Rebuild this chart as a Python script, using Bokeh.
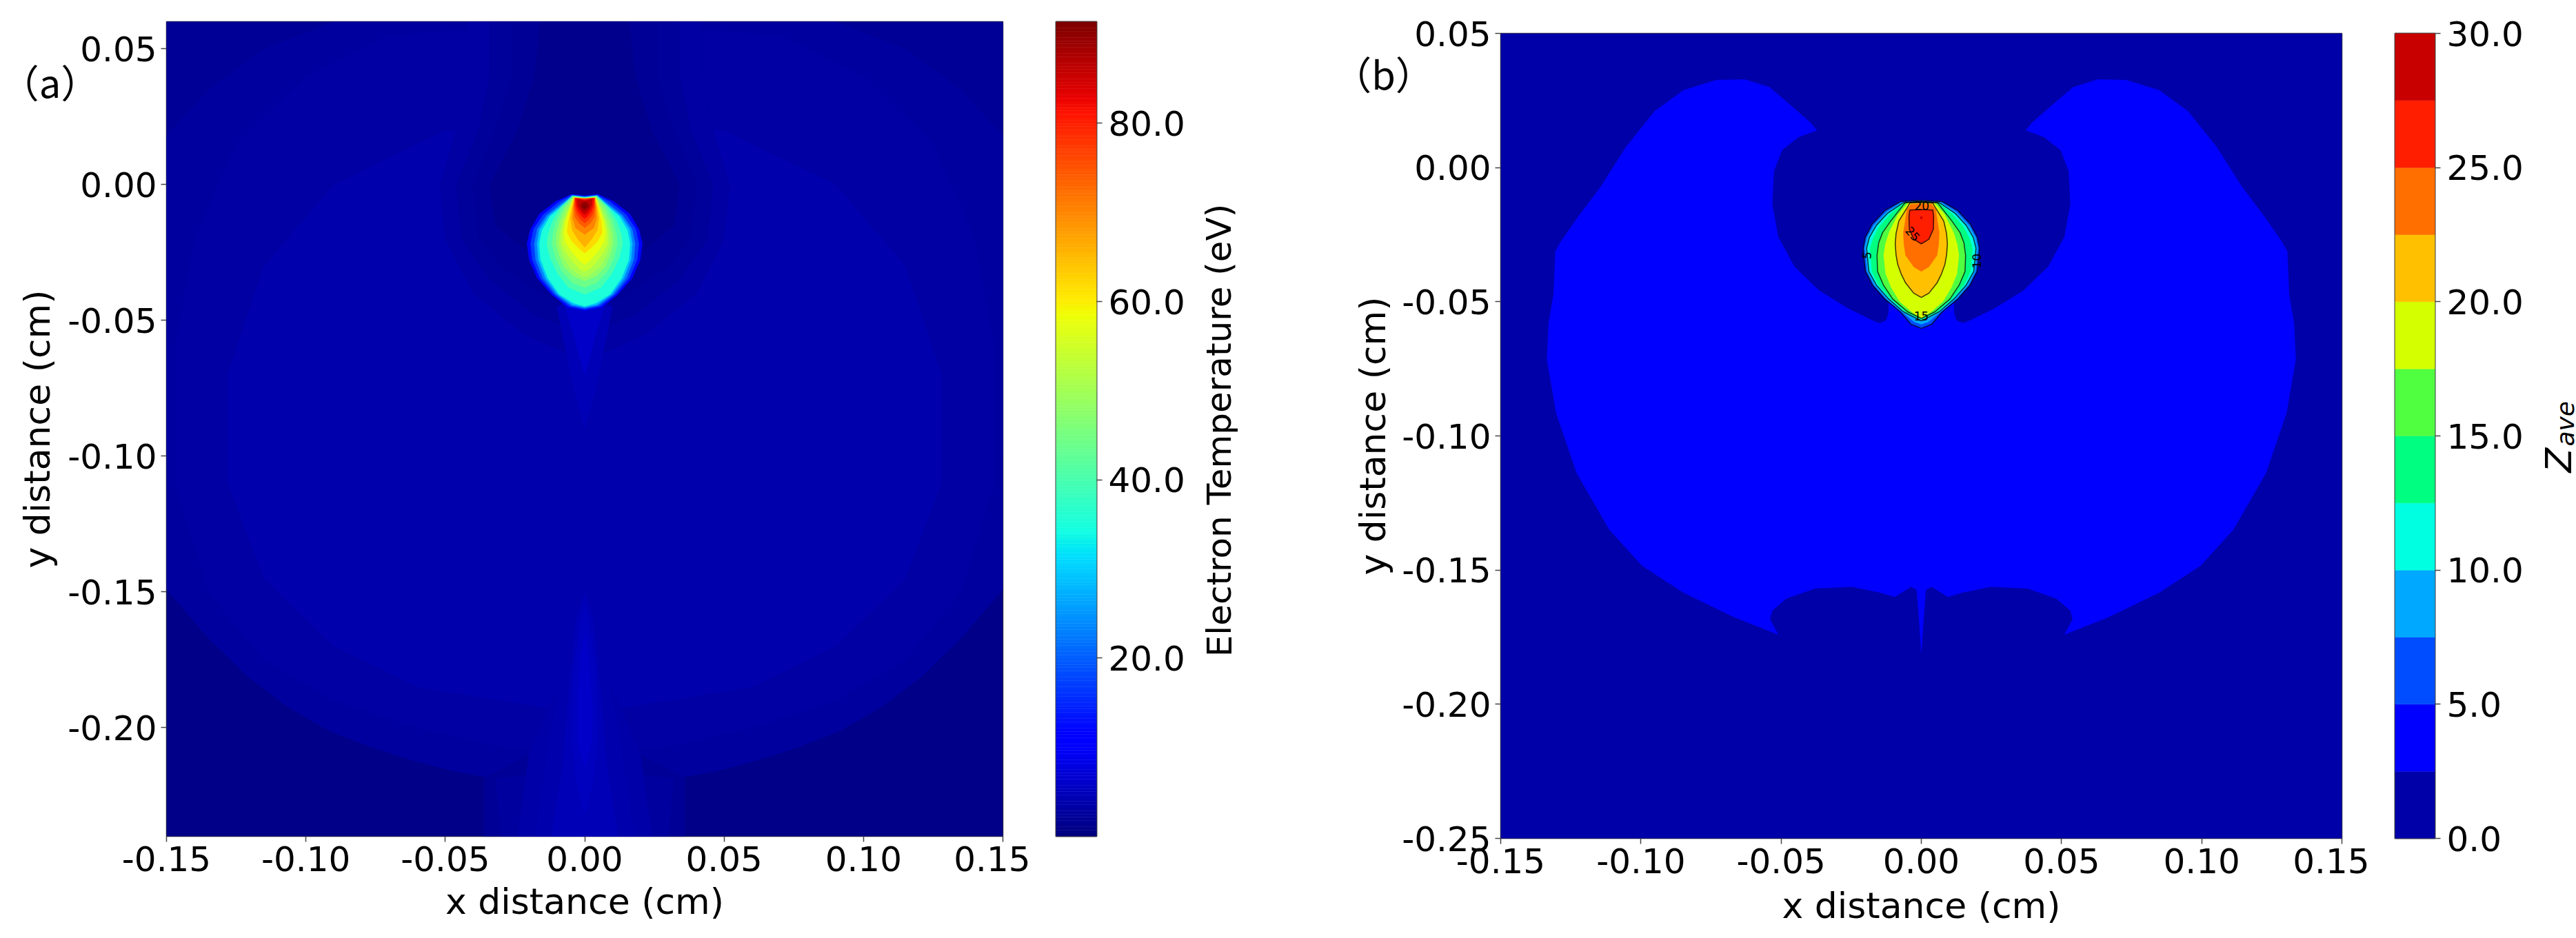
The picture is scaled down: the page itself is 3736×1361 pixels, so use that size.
from math import pi
import numpy as np
from bokeh.core.properties import value
from bokeh.embed import file_html
from bokeh.models import ColumnDataSource, FixedTicker, LinearColorMapper, NumeralTickFormatter, Range1d
from bokeh.plotting import figure
from bokeh.resources import INLINE

# ---- panel (a): electron temperature, half outlines (x >= 0) of each band, in cm
te_high = 91.4
te_ticks = [20, 40, 60, 80]

upper_x = [0, 0.15, 0.15, 0]
upper_y = [0.06, 0.06, -0.10, -0.10]
dome_x = [0, 0.09, 0.115, 0.135, 0.15, 0.15, 0.135, 0.121, 0.107, 0.092, 0.077, 0.062, 0.047, 0.033, 0.03, 0]
dome_y = [0.06, 0.06, 0.05, 0.035, 0.018, -0.149, -0.167, -0.181, -0.192, -0.201, -0.207, -0.212, -0.216, -0.2186, -0.24, -0.24]
inner_x = [0, 0.07, 0.10, 0.125, 0.14, 0.147, 0.147, 0.135, 0.115, 0.09, 0.06, 0.03, 0]
inner_y = [0.06, 0.055, 0.04, 0.015, -0.02, -0.06, -0.11, -0.15, -0.175, -0.19, -0.20, -0.207, -0.21]
core_x = [0, 0.05, 0.09, 0.115, 0.128, 0.128, 0.115, 0.09, 0.06, 0.03, 0]
core_y = [0.02, 0.02, 0.0, -0.03, -0.07, -0.11, -0.145, -0.17, -0.185, -0.19, -0.195]
mid_x = [0, 0.05, 0.085, 0.105, 0.108, 0.095, 0.07, 0.04, 0]
mid_y = [-0.03, -0.03, -0.045, -0.07, -0.10, -0.135, -0.155, -0.165, -0.17]

plume_a_x = [0, 0.02, 0.036, 0.036, 0]
plume_a_y = [-0.20, -0.21, -0.2186, -0.24, -0.24]
plume_b_x = [0, 0.032, 0.030, 0]
plume_b_y = [-0.215, -0.2186, -0.24, -0.24]
plume_c_x = [0, 0.012, 0.020, 0.024, 0]
plume_c_y = [-0.17, -0.19, -0.21, -0.24, -0.24]
plume_d_x = [0, 0.006, 0.012, 0.018, 0]
plume_d_y = [-0.16, -0.17, -0.20, -0.24, -0.24]
plume_e_x = [0, 0.003, 0.006, 0.008, 0.012, 0]
plume_e_y = [-0.15, -0.16, -0.19, -0.215, -0.24, -0.24]
plume_f_x = [0, 0.002, 0.004, 0.0045, 0.003, 0]
plume_f_y = [-0.155, -0.165, -0.18, -0.205, -0.22, -0.232]
plume_g_x = [0, 0.0015, 0.0025, 0.0025, 0]
plume_g_y = [-0.165, -0.175, -0.19, -0.205, -0.215]

funnel1_x = [0, .042, .042, .046, .052, .050, .040, .022, 0]
funnel1_y = [.06, .06, .04, .02, 0, -.02, -.04, -.055, -.065]
funnel2_x = [0, .034, .034, .038, .046, .044, .034, .018, 0]
funnel2_y = [.06, .06, .04, .02, 0, -.02, -.035, -.048, -.055]
funnel3_x = [0, .026, .026, .032, .040, .038, .030, .016, 0]
funnel3_y = [.06, .06, .04, .02, 0, -.02, -.03, -.04, -.047]
funnel4_x = [0, .016, .018, .024, .034, .032, .020, 0]
funnel4_y = [.06, .06, .04, .02, 0, -.015, -.025, -.033]
tail1_x = [0, .010, .007, .004, 0]
tail1_y = [-.04, -.045, -.06, -.075, -.09]
tail2_x = [0, .007, .004, .002, 0]
tail2_y = [-.04, -.045, -.055, -.063, -.07]

te11_x = [0, .0048, .0104, .0162, .0194, .0207, .0199, .0170, .0120, .0063, 0]
te11_y = [-.0041, -.0036, -.0062, -.0108, -.0163, -.0218, -.0277, -.0345, -.0404, -.0451, -.0464]
te17_x = [0, .0046, .0092, .0148, .0183, .0194, .0188, .0160, .0112, .0056, 0]
te17_y = [-.0043, -.0038, -.0064, -.0110, -.0163, -.0218, -.0277, -.0345, -.0404, -.0448, -.0459]
te23_x = [0, .0045, .0082, .0137, .0170, .0181, .0176, .0150, .0104, .0049, 0]
te23_y = [-.0045, -.0040, -.0068, -.0113, -.0163, -.0218, -.0277, -.0345, -.0404, -.0445, -.0455]
te29_x = [0, .0044, .0078, .0130, .0162, .0171, .0166, .0140, .0097, .0044, 0]
te29_y = [-.0046, -.0041, -.0071, -.0115, -.0165, -.0218, -.0277, -.0345, -.0404, -.0442, -.0451]
te35_x = [0, .0044, .0074, .0124, .0153, .0163, .0158, .0132, .0091, .0040, 0]
te35_y = [-.0047, -.0041, -.0073, -.0117, -.0168, -.0218, -.0277, -.0345, -.0404, -.0436, -.0448]
te40_x = [0, .0043, .0086, .0115, .0132, .0136, .0124, .0097, .0058, 0]
te40_y = [-.0048, -.0042, -.0083, -.0134, -.0184, -.0218, -.0269, -.0328, -.0379, -.0404]
te44_x = [0, .0042, .0076, .0101, .0114, .0117, .0105, .0081, .0043, 0]
te44_y = [-.0049, -.0043, -.0083, -.0134, -.0184, -.0218, -.0269, -.0320, -.0362, -.0379]
te48_x = [0, .0041, .0068, .0089, .0101, .0102, .0091, .0073, .0041, 0]
te48_y = [-.0050, -.0045, -.0083, -.0134, -.0184, -.0218, -.0261, -.0303, -.0337, -.0354]
te51_x = [0, .0040, .0058, .0079, .0089, .0092, .0078, .0054, .0025, 0]
te51_y = [-.0051, -.0047, -.0083, -.0134, -.0176, -.0218, -.0261, -.0303, -.0328, -.0341]
te54_x = [0, .0040, .0054, .0074, .0082, .0082, .0066, .0041, .0018, 0]
te54_y = [-.0052, -.0047, -.0083, -.0134, -.0176, -.0218, -.0252, -.0286, -.0311, -.0320]
te58_x = [0, .0039, .0051, .0068, .0074, .0070, .0049, .0021, 0]
te58_y = [-.0052, -.0047, -.0083, -.0134, -.0176, -.0210, -.0244, -.0277, -.0294]
te62_x = [0, .0038, .0048, .0059, .0063, .0045, .0021, 0]
te62_y = [-.0052, -.0048, -.0083, -.0134, -.0176, -.0210, -.0235, -.0252]
te66_x = [0, .0037, .0044, .0051, .0045, .0025, 0]
te66_y = [-.0052, -.0049, -.0083, -.0125, -.0168, -.0201, -.0231]
te70_x = [0, .0036, .0041, .0043, .0033, 0]
te70_y = [-.0052, -.0049, -.0083, -.0125, -.0159, -.0184]
te74_x = [0, .0035, .0038, .0036, .0021, 0]
te74_y = [-.0052, -.0049, -.0083, -.0117, -.0142, -.0159]
te78_x = [0, .0035, .0035, .0029, .0015, 0]
te78_y = [-.0052, -.0050, -.0083, -.0108, -.0129, -.0142]
te82_x = [0, .0033, .0031, .0023, .0010, 0]
te82_y = [-.0056, -.0051, -.0079, -.0100, -.0117, -.0125]
te86_x = [0, .0027, .0026, .0018, .0008, 0]
te86_y = [-.0060, -.0052, -.0074, -.0091, -.0104, -.0110]
te89_x = [0, .0012, .0016, .0010, 0]
te89_y = [-.0062, -.0068, -.0079, -.0087, -.0096]
te91_x = [0, .0007, .0007, 0]
te91_y = [-.0072, -.0076, -.0083, -.0088]

te_bands = [
    (1.0, [0, 0.15, 0.15, 0], [0.06, 0.06, -0.24, -0.24]),
    (2.0, upper_x, upper_y),
    (2.8, dome_x, dome_y), (3.2, inner_x, inner_y), (3.6, core_x, core_y), (3.9, mid_x, mid_y),
    (2.0, plume_a_x, plume_a_y), (2.8, plume_b_x, plume_b_y), (3.4, plume_c_x, plume_c_y),
    (3.9, plume_d_x, plume_d_y), (4.4, plume_e_x, plume_e_y), (5.0, plume_f_x, plume_f_y),
    (6.0, plume_g_x, plume_g_y),
    (3.0, funnel1_x, funnel1_y), (2.4, funnel2_x, funnel2_y), (1.8, funnel3_x, funnel3_y),
    (1.3, funnel4_x, funnel4_y), (4.5, tail1_x, tail1_y), (6.0, tail2_x, tail2_y),
    (11, te11_x, te11_y), (17, te17_x, te17_y), (23, te23_x, te23_y), (29, te29_x, te29_y),
    (35, te35_x, te35_y), (40, te40_x, te40_y), (44, te44_x, te44_y), (48, te48_x, te48_y),
    (51, te51_x, te51_y), (54, te54_x, te54_y), (58, te58_x, te58_y), (62, te62_x, te62_y),
    (66, te66_x, te66_y), (70, te70_x, te70_y), (74, te74_x, te74_y), (78, te78_x, te78_y),
    (82, te82_x, te82_y), (86, te86_x, te86_y), (89, te89_x, te89_y), (91, te91_x, te91_y),
]

# ---- panel (b): average charge, filled contour bands
z_ticks = [0, 5, 10, 15, 20, 25, 30]
z_colors = ['#0000a8', '#0000ff', '#004cff', '#00a8ff', '#00ffe0', '#00ff80',
            '#50ff40', '#d4ff00', '#ffc000', '#ff6f00', '#ff1e00', '#c80000']

z2_x = [0, .0007, .0016, .0037, .0095, .0145, .0248, .0379, .0482, .0532, .054, .0511,
        .0672, .0848, .0995, .1112, .1229, .1302, .1335, .1329, .1311, .1305, .1288, .1229,
        .1141, .1053, .0951, .0848, .0731, .0628, .0541, .0467, .0394, .0373, .0438, .0497,
        .0526, .0532, .0511, .0453, .0365, .0262, .0174, .0149, .0125, .0116, .0116, 0]
z2_y = [-.1807, -.1695, -.1573, -.1562, -.160, -.1584, -.1562, -.1568, -.1606, -.1651, -.1684, -.174,
        -.1673, -.1584, -.1484, -.135, -.1138, -.0915, -.0715, -.0581, -.047, -.0313, -.028, -.0191,
        -.0068, .0077, .021, .0288, .0326, .0328, .0299, .0233, .0166, .0139, .0114, .0065,
        -.0013, -.0135, -.0258, -.0369, -.0458, -.0525, -.057, -.058, -.057, -.054, -.0505, -.045]
z5_x = [0, .0075, .0130, .0175, .0200, .0207, .0205, .0199, .0174, .0130, .0075, .0037, 0]
z5_y = [-.0122, -.0127, -.0160, -.0210, -.0260, -.0300, -.0335, -.0387, -.0438, -.0490, -.0537, -.0584, -.0599]
z75_x = [0, .0070, .0125, .0170, .0194, .0202, .0198, .0193, .0168, .0124, .0070, .0025, 0]
z75_y = [-.0124, -.0129, -.0165, -.0215, -.0260, -.0300, -.0335, -.0387, -.0438, -.0490, -.0537, -.0575, -.0584]
z10_x = [0, .0066, .0120, .0160, .0185, .0195, .0192, .0187, .0160, .0116, .0064, 0]
z10_y = [-.0126, -.0132, -.0170, -.0215, -.0260, -.0300, -.0335, -.0387, -.0438, -.0490, -.0537, -.0571]
z125_x = [0, .0061, .0112, .0150, .0172, .0183, .0180, .0176, .0152, .0108, .0057, 0]
z125_y = [-.0127, -.0132, -.0175, -.0220, -.0265, -.0300, -.0335, -.0387, -.0438, -.0490, -.0537, -.0565]
z15_x = [0, .0057, .0109, .0138, .0152, .0158, .0156, .0135, .0102, .0049, 0]
z15_y = [-.0128, -.0130, -.0199, -.0242, -.0280, -.0327, -.0387, -.0438, -.0490, -.0537, -.0562]
z175_x = [0, .0045, .0082, .0115, .0128, .0134, .0127, .0107, .0078, .0031, 0]
z175_y = [-.0128, -.0130, -.0173, -.0242, -.0285, -.0327, -.0396, -.0447, -.0498, -.0541, -.0560]
z20_x = [0, .0041, .0049, .0080, .0090, .0093, .0090, .0084, .0072, .0056, .0027, 0]
z20_y = [-.0130, -.0132, -.0147, -.0199, -.0245, -.0284, -.0327, -.0361, -.0396, -.0430, -.0468, -.0484]
z225_x = [0, .0037, .0051, .0064, .0062, .0056, .0027, 0]
z225_y = [-.0135, -.0137, -.0156, -.0242, -.0285, -.0327, -.0370, -.0387]
z25_x = [0, .0041, .0044, .0043, .0027, 0]
z25_y = [-.0156, -.0158, -.0182, -.0229, -.0267, -.0284]
z275_x = [0, .0004, .0004, 0]
z275_y = [-.0182, -.0184, -.0190, -.0192]

z_bands = [(1.25, [0, 0.15, 0.15, 0], [0.05, 0.05, -0.25, -0.25]),
           (3.75, z2_x, z2_y), (6.25, z5_x, z5_y), (8.75, z75_x, z75_y), (11.25, z10_x, z10_y),
           (13.75, z125_x, z125_y), (16.25, z15_x, z15_y), (18.75, z175_x, z175_y),
           (21.25, z20_x, z20_y), (23.75, z225_x, z225_y), (26.25, z25_x, z25_y),
           (28.75, z275_x, z275_y)]
z_lines = [(z5_x, z5_y), (z10_x, z10_y), (z15_x, z15_y), (z20_x, z20_y), (z25_x, z25_y)]
z_label_text = ['5', '10', '15', '20', '25']
z_label_x = [-0.0195, 0.0197, 0.0, 0.0002, -0.0030]
z_label_y = [-0.0327, -0.0348, -0.0554, -0.0143, -0.0247]
z_label_angle = [1.5, 1.57, 0, 0, -0.85]

axis_ticks_x = [-0.15, -0.10, -0.05, 0.0, 0.05, 0.10, 0.15]
axis_ticks_ya = [-0.20, -0.15, -0.10, -0.05, 0.0, 0.05]
axis_ticks_yb = [-0.25, -0.20, -0.15, -0.10, -0.05, 0.0, 0.05]

FONT = 'DejaVu Sans'
TICK_PX = '50px'
DARK = '#444444'


def jet_palette():
    t = np.linspace(0, 1, 256)
    r = np.interp(t, [0, .35, .66, .89, 1], [0, 0, 1, 1, .5])
    g = np.interp(t, [0, .125, .375, .64, .91, 1], [0, 0, 1, 1, 0, 0])
    b = np.interp(t, [0, .11, .34, .65, 1], [.5, 1, 1, 0, 0])
    return ['#%02x%02x%02x' % (int(a * 255), int(c * 255), int(d * 255)) for a, c, d in zip(r, g, b)]


def mirror(xs, ys):
    return [-x for x in reversed(xs)] + list(xs), list(reversed(ys)) + list(ys)


def band_source(bands):
    xs, ys, levels = [], [], []
    for v, bx, by in bands:
        mx, my = mirror(bx, by)
        xs.append(mx)
        ys.append(my)
        levels.append(v)
    return ColumnDataSource(dict(xs=xs, ys=ys, level=levels))


def place(p, left, top):
    p.styles = {'position': 'absolute', 'left': '%dpx' % left, 'top': '%dpx' % top}


def style_axis(ax, ticks, fmt):
    ax.ticker = FixedTicker(ticks=ticks)
    ax.formatter = NumeralTickFormatter(format=fmt)
    ax.major_label_text_font = FONT
    ax.major_label_text_font_size = TICK_PX
    ax.major_label_text_color = 'black'
    ax.major_tick_in = 0
    ax.major_tick_out = 8
    ax.major_tick_line_color = DARK
    ax.major_tick_line_width = 1.5
    ax.minor_tick_line_color = None
    ax.axis_line_color = None
    ax.axis_label_text_font = FONT
    ax.axis_label_text_font_size = '52px'
    ax.axis_label_text_font_style = 'normal'
    ax.axis_label_text_color = 'black'


def panel(y_range, y_ticks, left, top, fw, fh, bottom, mapper, bands, xstand, ystand):
    p = figure(output_backend='svg', toolbar_location=None, tools='',
               frame_width=fw, frame_height=fh,
               min_border_left=left, min_border_top=top, min_border_right=40, min_border_bottom=bottom,
               x_range=Range1d(-0.15, 0.15), y_range=Range1d(*y_range),
               x_axis_label='x distance (cm)', y_axis_label='y distance (cm)')
    p.grid.visible = False
    p.outline_line_color = '#333333'
    p.outline_line_width = 1.5
    p.patches('xs', 'ys', source=band_source(bands),
              fill_color={'field': 'level', 'transform': mapper},
              line_color={'field': 'level', 'transform': mapper}, line_width=0.5)
    style_axis(p.xaxis[0], axis_ticks_x, '0.00')
    style_axis(p.yaxis[0], y_ticks, '0.00')
    p.xaxis[0].major_label_standoff = 6
    p.xaxis[0].axis_label_standoff = xstand
    p.yaxis[0].major_label_standoff = 6
    p.yaxis[0].axis_label_standoff = ystand
    return p


def colour_strip(mapper, low, high, ticks, fw, fh):
    # the colour bar is its own little figure so it can sit where the original has it
    n = len(mapper.palette)
    edges = np.linspace(low, high, n + 1)
    src = ColumnDataSource(dict(bottom=edges[:-1], top=edges[1:], level=(edges[:-1] + edges[1:]) / 2))
    p = figure(output_backend='svg', toolbar_location=None, tools='',
               frame_width=fw, frame_height=fh, min_border_left=4, min_border_top=40,
               min_border_right=150, min_border_bottom=40,
               x_range=Range1d(0, 1), y_range=Range1d(low, high),
               x_axis_location=None, y_axis_location='right')
    p.grid.visible = False
    p.outline_line_color = DARK
    p.outline_line_width = 2
    p.quad(left=0, right=1, bottom='bottom', top='top', source=src,
           fill_color={'field': 'level', 'transform': mapper},
           line_color={'field': 'level', 'transform': mapper}, line_width=0.5)
    style_axis(p.yaxis[0], ticks, '0.0')
    p.yaxis[0].major_label_standoff = 9
    return p


te_mapper = LinearColorMapper(palette=jet_palette(), low=0, high=te_high)
z_mapper = LinearColorMapper(palette=z_colors, low=0, high=30)

pa = panel((-0.24, 0.06), axis_ticks_ya, 233, 23, 1213, 1182, 140, te_mapper, te_bands, 11, 11)
place(pa, 8, 8)
pb = panel((-0.25, 0.05), axis_ticks_yb, 308, 40, 1220, 1168, 137, z_mapper, z_bands, 14, 9)
place(pb, 1868, 8)
pb.multi_line([mirror(x, y)[0] for x, y in z_lines], [mirror(x, y)[1] for x, y in z_lines],
              line_color='black', line_alpha=0.75, line_width=1.5)
pb.text(x=z_label_x, y=z_label_y, text=z_label_text, angle=z_label_angle,
        text_font=value(FONT), text_font_size='17px', text_color='black',
        text_align='center', text_baseline='middle')

ca = colour_strip(te_mapper, 0, te_high, te_ticks, 59, 1182)
place(ca, 1527, 31 - 40)
cb = colour_strip(z_mapper, 0, 30, z_ticks, 58, 1168)
place(cb, 3469, 48 - 40)

# free texts sit on a transparent sheet the size of the window, in picture pixels
sheet = figure(output_backend='svg', toolbar_location=None, tools='', width=3736, height=1361,
               x_range=Range1d(0, 3736), y_range=Range1d(1361, 0),
               x_axis_location=None, y_axis_location=None, min_border=0,
               outline_line_color=None, background_fill_color=None, border_fill_color=None)
sheet.grid.visible = False
place(sheet, 0, 0)
sheet.text(x=[72, 2006], y=[117, 105], text=['（a）', '（b）'], text_font=value('Noto Sans CJK SC'),
           text_font_size='56px', text_color='black', text_align='center', text_baseline='middle')
sheet.text(x=[1768], y=[624], text=['Electron Temperature (eV)'], angle=[pi / 2], text_font=value(FONT),
           text_font_size='50px', text_color='black', text_align='center', text_baseline='alphabetic')
sheet.text(x=[3710], y=[685], text=['Z'], angle=[pi / 2], text_font=value(FONT), text_font_style='italic',
           text_font_size='52px', text_color='black', text_align='left', text_baseline='alphabetic')
sheet.text(x=[3720], y=[647], text=['ave'], angle=[pi / 2], text_font=value(FONT), text_font_style='italic',
           text_font_size='36px', text_color='black', text_align='left', text_baseline='alphabetic')

open("out.html", "w").write(file_html([pa, pb, ca, cb, sheet], INLINE))
